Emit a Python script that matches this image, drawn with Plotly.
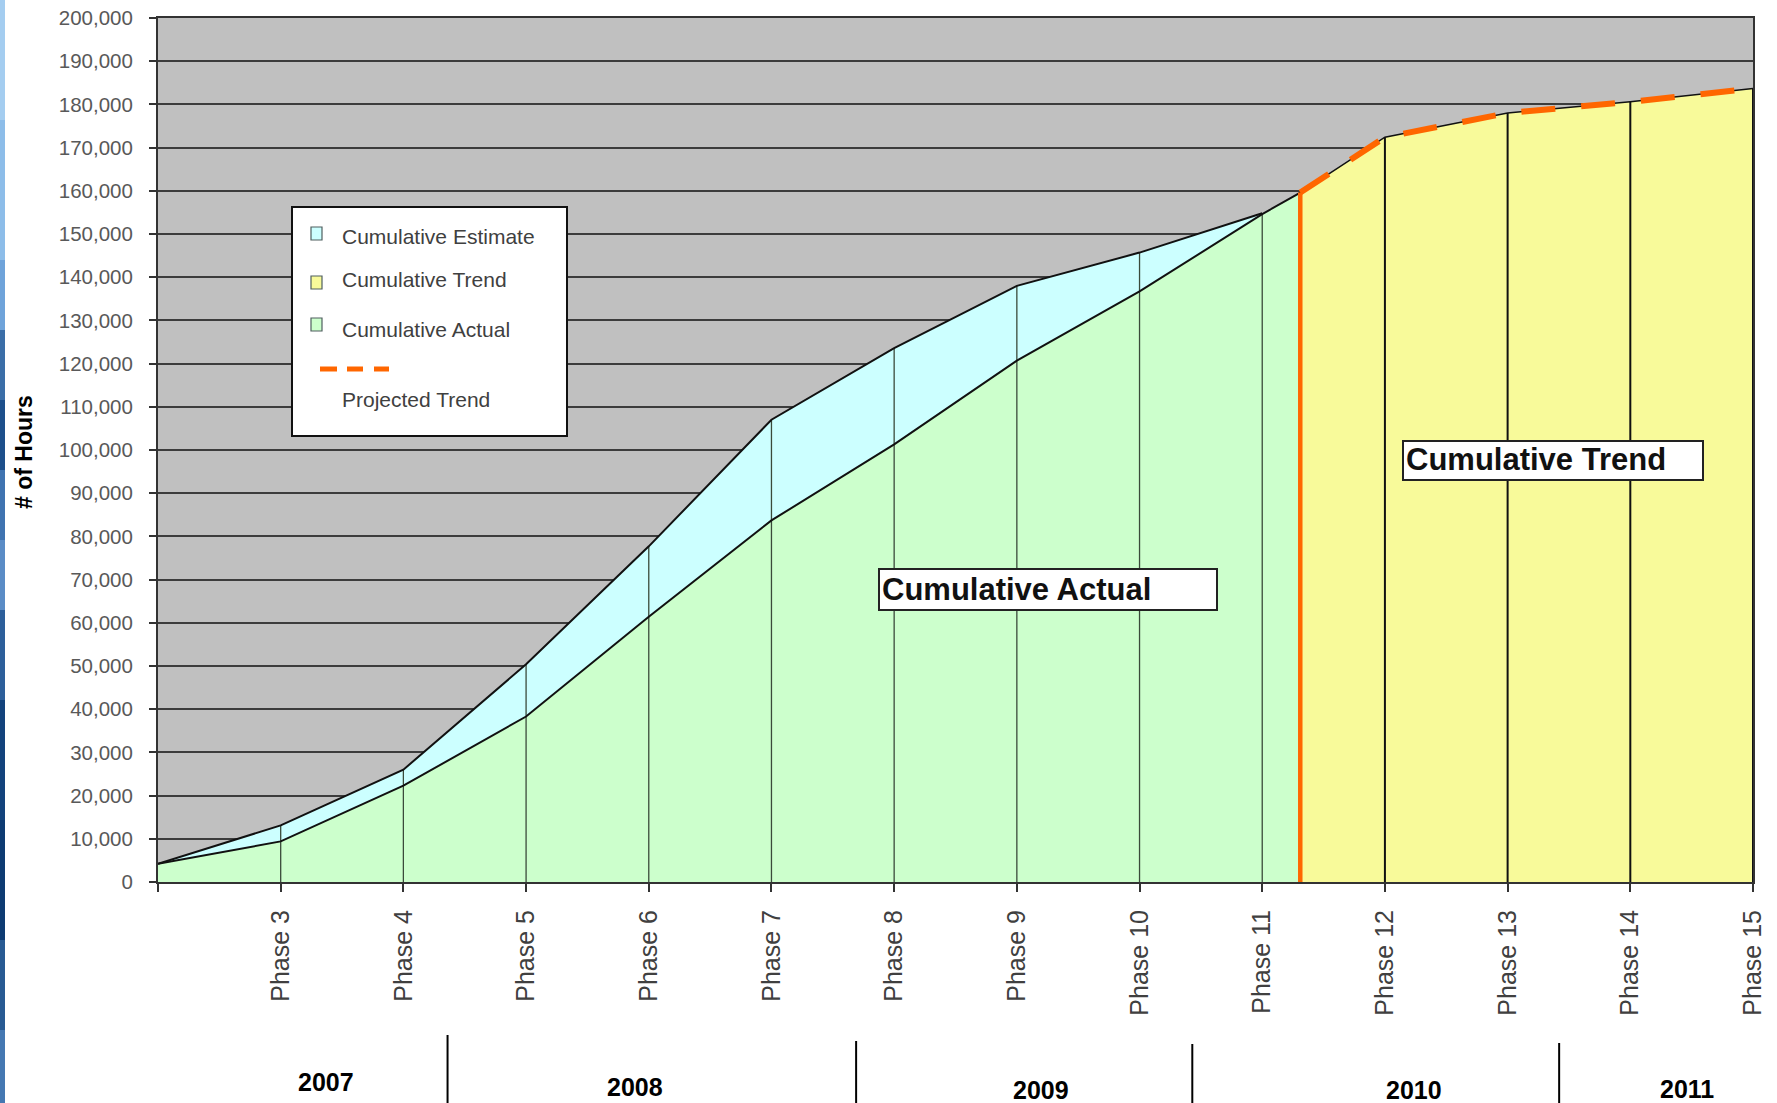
import plotly.graph_objects as go

# ---------------- data ----------------
phase_x = list(range(2, 16))
phase_labels = [""] + [f"Phase {i}" for i in range(3, 16)]

est_x = [2, 3, 4, 5, 6, 7, 8, 9, 10, 11]
est_y = [4200, 13100, 26000, 50400, 77700, 107000, 123600, 138000, 145700, 154800]

act_x = [2, 3, 4, 5, 6, 7, 8, 9, 10, 11, 11.31]
act_y = [4200, 9400, 22300, 38300, 61400, 83700, 101300, 120700, 136700, 154600, 159600]

trend_x = [11.31, 12, 13, 14, 15]
trend_y = [159600, 172400, 178000, 180600, 183700]

current_x = 11.31

years = ["2007", "2008", "2009", "2010", "2011"]
year_label_x = [3.37, 5.89, 9.20, 12.24, 14.46]
year_sep_x = [4.36, 7.69, 10.43, 13.42]

# ---------------- layout geometry (page pixels) ----------------
W, H = 1777, 1103
L, T = 158, 18
PW, PH = 1595, 864
R, B = W - L - PW, H - T - PH
XMIN, XMAX = 2, 15
year_label_ypx = [1082, 1087, 1090, 1090, 1089]
year_sep_top = [1035, 1041, 1044, 1043]


def px(X):
    return (X - L) / PW


def py(Y):
    return (T + PH - Y) / PH


FONT = "Arial, Liberation Sans, sans-serif"

fig = go.Figure()

# fills
fig.add_trace(go.Scatter(x=est_x, y=est_y, fill="tozeroy", mode="lines",
                         fillcolor="#CCFFFF", line=dict(width=0), hoverinfo="skip",
                         showlegend=False))
fig.add_trace(go.Scatter(x=act_x, y=act_y, fill="tozeroy", mode="lines",
                         fillcolor="#CCFFCC", line=dict(width=0), hoverinfo="skip",
                         showlegend=False))
fig.add_trace(go.Scatter(x=trend_x, y=trend_y, fill="tozeroy", mode="lines",
                         fillcolor="#F8FA9A", line=dict(width=0), hoverinfo="skip",
                         showlegend=False))

# drop lines
dx, dy = [], []
for xv, yv in zip(est_x[1:], est_y[1:]):
    dx += [xv, xv, None]
    dy += [0, yv, None]
fig.add_trace(go.Scatter(x=dx, y=dy, mode="lines", line=dict(color="#3a4a3a", width=1.3),
                         hoverinfo="skip", showlegend=False))
tx, ty = [], []
for xv, yv in zip(trend_x[1:], trend_y[1:]):
    tx += [xv, xv, None]
    ty += [0, yv, None]
fig.add_trace(go.Scatter(x=tx, y=ty, mode="lines", line=dict(color="#111111", width=2),
                         hoverinfo="skip", showlegend=False))

# outlines
fig.add_trace(go.Scatter(x=est_x, y=est_y, mode="lines", line=dict(color="#111111", width=2),
                         hoverinfo="skip", showlegend=False))
fig.add_trace(go.Scatter(x=act_x, y=act_y, mode="lines", line=dict(color="#111111", width=2),
                         hoverinfo="skip", showlegend=False))
fig.add_trace(go.Scatter(x=trend_x, y=trend_y, mode="lines", line=dict(color="#111111", width=1.5),
                         hoverinfo="skip", showlegend=False))

# current position (orange vertical) and projected trend (orange dashed)
fig.add_trace(go.Scatter(x=[current_x, current_x], y=[0, trend_y[0]], mode="lines",
                         line=dict(color="#FF6600", width=4.5), hoverinfo="skip",
                         showlegend=False))
fig.add_trace(go.Scatter(x=trend_x, y=trend_y, mode="lines",
                         line=dict(color="#FF6600", width=6, dash="34px,26px"),
                         hoverinfo="skip", showlegend=False))

shapes = []
annotations = []

# blue strip on the far left
strip = [(0, "#a4cdf0"), (120, "#8dbde9"), (260, "#6fa3da"), (330, "#3b6ea8"),
         (400, "#1d4f8b"), (470, "#3f73b0"), (540, "#5a8cc6"), (610, "#2d5f9b"),
         (700, "#13437c"), (820, "#0d3b72"), (940, "#285a93"), (1030, "#4578b2"),
         (1103, None)]
for (y0, c), (y1, _) in zip(strip[:-1], strip[1:]):
    shapes.append(dict(type="rect", xref="paper", yref="paper",
                       x0=px(0), x1=px(5), y0=py(y1), y1=py(y0),
                       fillcolor=c, line=dict(width=0), layer="above"))

# year separators and labels
for xs, top in zip(year_sep_x, year_sep_top):
    shapes.append(dict(type="line", xref="x", yref="paper", x0=xs, x1=xs,
                       y0=py(top), y1=py(1103), line=dict(color="#000000", width=2)))
for yl, xl, ypx_ in zip(years, year_label_x, year_label_ypx):
    annotations.append(dict(text=f"<b>{yl}</b>", xref="x", yref="paper", x=xl, y=py(ypx_),
                            showarrow=False, xanchor="center", yanchor="middle",
                            font=dict(family=FONT, size=25, color="#000000")))

# legend box
shapes.append(dict(type="rect", xref="paper", yref="paper", x0=px(292), x1=px(567),
                   y0=py(436), y1=py(207), fillcolor="#FFFFFF",
                   line=dict(color="#111111", width=2), layer="above"))
legend_items = [("Cumulative Estimate", "#CCFFFF", 233.5, 236.5),
                ("Cumulative Trend", "#F8FA9A", 282.5, 279),
                ("Cumulative Actual", "#CCFFCC", 324.5, 329.5)]
for name, col, my, ty_ in legend_items:
    shapes.append(dict(type="rect", xref="paper", yref="paper", x0=px(311), x1=px(322),
                       y0=py(my + 6.5), y1=py(my - 6.5), fillcolor=col,
                       line=dict(color="#4f5f5f", width=1.2), layer="above"))
    annotations.append(dict(text=name, xref="paper", yref="paper", x=px(340), y=py(ty_),
                            showarrow=False, xanchor="left", yanchor="middle",
                            font=dict(family=FONT, size=21, color="#404040")))
for a, b in [(320, 337), (347, 363), (374, 389)]:
    shapes.append(dict(type="line", xref="paper", yref="paper", x0=px(a), x1=px(b),
                       y0=py(369), y1=py(369), line=dict(color="#FF6600", width=5),
                       layer="above"))
annotations.append(dict(text="Projected Trend", xref="paper", yref="paper", x=px(340),
                        y=py(399.5), showarrow=False, xanchor="left", yanchor="middle",
                        font=dict(family=FONT, size=21, color="#404040")))

# in-plot labels
for text, x0, y0, w, h in [("Cumulative Actual", 878, 568, 340, 43),
                           ("Cumulative Trend", 1402, 440, 302, 41)]:
    annotations.append(dict(text=f"<b>{text}</b>", xref="paper", yref="paper",
                            x=px(x0), y=py(y0), xanchor="left", yanchor="top",
                            showarrow=False, align="left", width=w - 8, height=h - 8,
                            bgcolor="#FFFFFF", bordercolor="#222222", borderwidth=2,
                            borderpad=2, valign="bottom",
                            font=dict(family=FONT, size=31, color="#111111")))

# y-axis title
annotations.append(dict(text="<b># of Hours</b>", xref="paper", yref="paper",
                        x=px(24), y=py(452), textangle=-90, showarrow=False,
                        xanchor="center", yanchor="middle",
                        font=dict(family=FONT, size=23, color="#000000")))

fig.update_layout(
    width=W, height=H,
    margin=dict(l=L, r=R, t=T, b=B, autoexpand=False),
    paper_bgcolor="#FFFFFF", plot_bgcolor="#C0C0C0",
    showlegend=False,
    shapes=shapes, annotations=annotations,
    xaxis=dict(range=[XMIN, XMAX], tickmode="array", tickvals=phase_x, ticktext=phase_labels,
               tickangle=-90, ticks="outside", ticklen=8, tickwidth=1.5, tickcolor="#333333",
               showgrid=False, zeroline=False, showline=True, linecolor="#333333",
               linewidth=2, mirror=True, ticklabelstandoff=8, ticklabeloverflow="allow",
               tickfont=dict(family=FONT, size=25, color="#404040")),
    yaxis=dict(range=[0, 200000], dtick=10000, tickformat=",", ticks="outside", ticklen=7,
               tickwidth=1.5, tickcolor="#333333", showgrid=True, gridcolor="#3c3c3c",
               gridwidth=1.5, zeroline=False, showline=True, linecolor="#333333",
               linewidth=2, mirror=True, ticklabelstandoff=12, ticklabeloverflow="allow",
               tickfont=dict(family=FONT, size=20.5, color="#595959")),
)

fig.write_html("out.html",
               config={"displayModeBar": False},
               post_script="document.body.style.margin='0px';"
                           "document.body.style.overflow='hidden';")
